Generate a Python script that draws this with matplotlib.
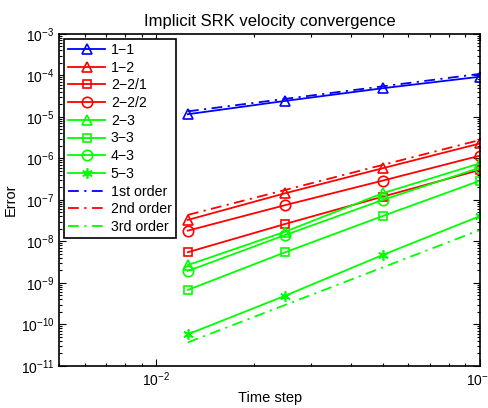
import matplotlib
matplotlib.use("Agg")
import matplotlib.pyplot as plt
from matplotlib.ticker import LogLocator, LogFormatterMathtext, NullFormatter

plt.rcParams['font.family'] = ['Liberation Sans', 'DejaVu Sans']
plt.rcParams['mathtext.fontset'] = 'custom'
plt.rcParams['mathtext.rm'] = 'Liberation Sans'
plt.rcParams['mathtext.it'] = 'Liberation Sans'
plt.rcParams['mathtext.default'] = 'regular'

# Time steps and errors per scheme
time_step = [0.0125, 0.025, 0.05, 0.1]

err_1_1 = [1.16e-5, 2.43e-5, 4.9e-5, 9.3e-5]
err_1_2 = [3.3e-8, 1.45e-7, 5.8e-7, 2.3e-6]
err_2_2_1 = [5.5e-9, 2.64e-8, 1.2e-7, 5.3e-7]
err_2_2_2 = [1.82e-8, 7.5e-8, 2.92e-7, 1.17e-6]
err_2_3 = [2.7e-9, 1.72e-8, 1.45e-7, 7.65e-7]
err_3_3 = [6.8e-10, 5.5e-9, 4.1e-8, 2.92e-7]
err_4_3 = [1.95e-9, 1.43e-8, 1.0e-7, 6.0e-7]
err_5_3 = [5.8e-11, 4.94e-10, 4.73e-9, 4.1e-8]

# Reference slopes
first_order = [1.36e-5, 2.72e-5, 5.45e-5, 1.09e-4]
second_order = [4.36e-8, 1.74e-7, 6.98e-7, 2.79e-6]
third_order = [3.7e-11, 2.96e-10, 2.37e-9, 1.9e-8]

blue, red, green = (0, 0, 1), (1, 0, 0), (0, 1, 0)
dashdot = (0, (6, 3, 1.2, 3))

fig = plt.figure(figsize=(4.88, 4.08), dpi=100)
ax = fig.add_axes([0.121, 0.103, 0.863, 0.814])

lw = 1.3
ms = 7.5
series = [
    (err_1_1, blue, '^', '1\u22121'),
    (err_1_2, red, '^', '1\u22122'),
    (err_2_2_1, red, 's', '2\u22122/1'),
    (err_2_2_2, red, 'o', '2\u22122/2'),
    (err_2_3, green, '^', '2\u22123'),
    (err_3_3, green, 's', '3\u22123'),
    (err_4_3, green, 'o', '4\u22123'),
    (err_5_3, green, (6, 2, 0), '5\u22123'),
]
for vals, col, mk, lab in series:
    size = ms if mk != 's' else ms - 1.5
    ax.loglog(time_step, vals, color=col, marker=mk, markersize=size,
              markerfacecolor='none', markeredgecolor=col, markeredgewidth=1.2,
              linewidth=lw, label=lab)

for vals, col, lab in [(first_order, blue, '1st order'),
                       (second_order, red, '2nd order'),
                       (third_order, green, '3rd order')]:
    ax.loglog(time_step, vals, color=col, linestyle=dashdot, linewidth=lw, label=lab)

ax.set_xlim(0.005, 0.1)
ax.set_ylim(1e-11, 1e-3)

ax.xaxis.set_major_locator(LogLocator(base=10, numticks=10))
ax.xaxis.set_minor_locator(LogLocator(base=10, subs=range(2, 10), numticks=10))
ax.yaxis.set_major_locator(LogLocator(base=10, numticks=20))
ax.yaxis.set_minor_locator(LogLocator(base=10, subs=range(2, 10), numticks=20))
ax.xaxis.set_major_formatter(LogFormatterMathtext())
ax.yaxis.set_major_formatter(LogFormatterMathtext())
ax.xaxis.set_minor_formatter(NullFormatter())
ax.yaxis.set_minor_formatter(NullFormatter())

ax.tick_params(which='both', direction='in', top=True, right=True, labelsize=10, width=0.8)
ax.tick_params(which='major', length=5)
ax.tick_params(which='minor', length=2.5)
for sp in ax.spines.values():
    sp.set_linewidth(1.2)

ax.set_title('Implicit SRK velocity convergence', fontsize=12, pad=6)
ax.set_xlabel('Time step', fontsize=10.5, labelpad=1)
ax.set_ylabel('Error', fontsize=10.5, labelpad=2)

leg = ax.legend(loc='upper left', fontsize=10.2, frameon=True, fancybox=False,
                edgecolor='black', framealpha=1, borderaxespad=0.35,
                handlelength=2.6, labelspacing=0.26, borderpad=0.3, handletextpad=0.4)
leg.get_frame().set_linewidth(1.2)

fig.savefig('out.png', dpi=100)
